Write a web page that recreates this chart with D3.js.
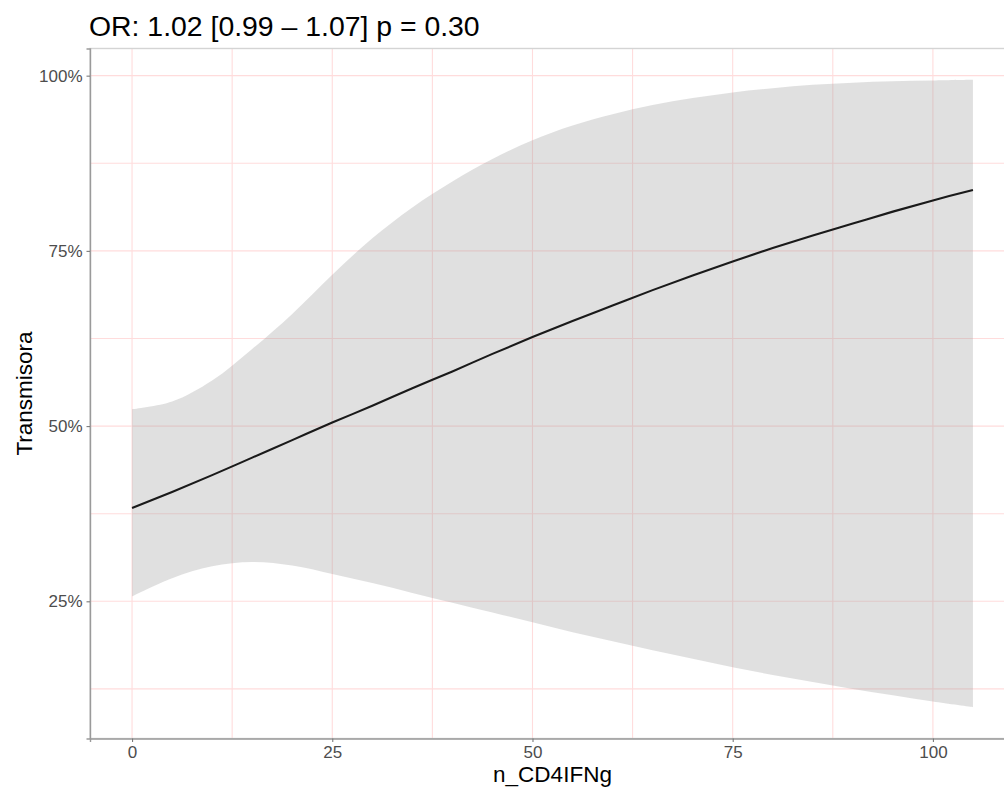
<!DOCTYPE html>
<html><head><meta charset="utf-8">
<script src="https://cdn.jsdelivr.net/npm/d3@7"></script>
<style>body{margin:0;background:#fff;} text{font-family:"Liberation Sans",Arial,Helvetica,sans-serif;}</style>
</head><body>
<svg id="c" width="1004" height="789"></svg>
<script>
const xVals = [0,5,10,15,20,25,30,35,40,45,50,55,60,65,70,75,80,85,90,95,100,105];
const fitPct = [38.3,40.6,43.0,45.5,48.0,50.5,52.9,55.4,57.8,60.3,62.7,65.0,67.2,69.4,71.5,73.5,75.4,77.2,78.9,80.6,82.2,83.7];
const upperPct = [52.4,53.5,56.5,61.0,66.0,71.6,76.8,81.2,84.9,88.1,90.8,92.9,94.5,95.8,96.8,97.6,98.2,98.7,99.0,99.2,99.3,99.4];
const lowerPct = [25.7,28.3,30.0,30.6,30.1,28.9,27.6,26.2,24.8,23.4,22.0,20.6,19.3,18.0,16.8,15.6,14.5,13.5,12.5,11.6,10.7,9.9];
const xTicks = [0,25,50,75,100];
const yTicks = [25,50,75,100];
const titleText = "OR: 1.02 [0.99 \u2013 1.07] p = 0.30";
const xTitle = "n_CD4IFNg";
const yTitle = "Transmisora";

const svg = d3.select("#c");
const L = 90, R = 1015, T = 48.5, B = 738.5;

const xMin = d3.min(xVals), xMax = d3.max(xVals), xs = xMax - xMin;
const yMin = d3.min(lowerPct), yMax = d3.max(upperPct), ys = yMax - yMin;
const x = d3.scaleLinear().domain([xMin - 0.05*xs, xMax + 0.05*xs]).range([L, R]);
const y = d3.scaleLinear().domain([yMin - 0.05*ys, yMax + 0.05*ys]).range([B, T]);

const data = xVals.map((v,i)=>({x:v, fit:fitPct[i], lo:lowerPct[i], hi:upperPct[i]}));

// gridlines (major + minor)
const grid = svg.append("g");
const minorX = d3.range(xTicks.length-1).map(i => (xTicks[i]+xTicks[i+1])/2).concat([xTicks[xTicks.length-1]+12.5]);
const minorY = [12.5].concat(d3.range(yTicks.length-1).map(i => (yTicks[i]+yTicks[i+1])/2));
const gridCol = "#ffdcdc";
xTicks.concat(minorX).forEach(v => {
  const px = x(v);
  if (px > L && px < R) grid.append("line").attr("x1",px).attr("x2",px).attr("y1",T).attr("y2",B).attr("stroke",gridCol).attr("stroke-width",1.1);
});
yTicks.concat(minorY).forEach(v => {
  const py = y(v);
  grid.append("line").attr("x1",L).attr("x2",R).attr("y1",py).attr("y2",py).attr("stroke",gridCol).attr("stroke-width",1.1);
});

// ribbon
const area = d3.area().x(d=>x(d.x)).y0(d=>y(d.lo)).y1(d=>y(d.hi)).curve(d3.curveCatmullRom.alpha(0.5));
svg.append("path").datum(data).attr("d",area).attr("fill","#999999").attr("fill-opacity",0.3);

// fitted line
const line = d3.line().x(d=>x(d.x)).y(d=>y(d.fit)).curve(d3.curveCatmullRom.alpha(0.5));
svg.append("path").datum(data).attr("d",line).attr("fill","none").attr("stroke","#1a1a1a").attr("stroke-width",2.1);

// panel border (top/right light) and axis lines
svg.append("rect").attr("x",L).attr("y",T).attr("width",R-L).attr("height",B-T).attr("fill","none").attr("stroke","#d4d4d4").attr("stroke-width",1.4);

const xAxis = d3.axisBottom(x).tickValues(xTicks).tickSize(3.5).tickPadding(4).tickFormat(d3.format("d"));
const gx = svg.append("g").attr("transform",`translate(0,${B})`).call(xAxis);
gx.select(".domain").attr("stroke","#9a9a9a").attr("stroke-width",1.4);
gx.selectAll(".tick line").attr("stroke","#7a7a7a").attr("stroke-width",1.1);
gx.selectAll(".tick text").attr("fill","#4d4d4d").style("font-size","17px");

const yAxis = d3.axisLeft(y).tickValues(yTicks).tickSize(3.5).tickPadding(4).tickFormat(d => d + "%");
const gy = svg.append("g").attr("transform",`translate(${L},0)`).call(yAxis);
gy.select(".domain").attr("stroke","#9a9a9a").attr("stroke-width",1.4);
gy.selectAll(".tick line").attr("stroke","#7a7a7a").attr("stroke-width",1.1);
gy.selectAll(".tick text").attr("fill","#4d4d4d").style("font-size","17px");
svg.selectAll(".tick text").style("font-family","'Liberation Sans',Arial,sans-serif");

// titles
svg.append("text").attr("x",89).attr("y",36).attr("fill","#000").style("font-size","28.4px").text(titleText);
svg.append("text").attr("x",(L+R)/2).attr("y",782).attr("text-anchor","middle").attr("fill","#000").style("font-size","22.5px").text(xTitle);
svg.append("text").attr("transform",`translate(32,${(T+B)/2}) rotate(-90)`).attr("text-anchor","middle").attr("fill","#000").style("font-size","22.5px").text(yTitle);
</script>
</body></html>
